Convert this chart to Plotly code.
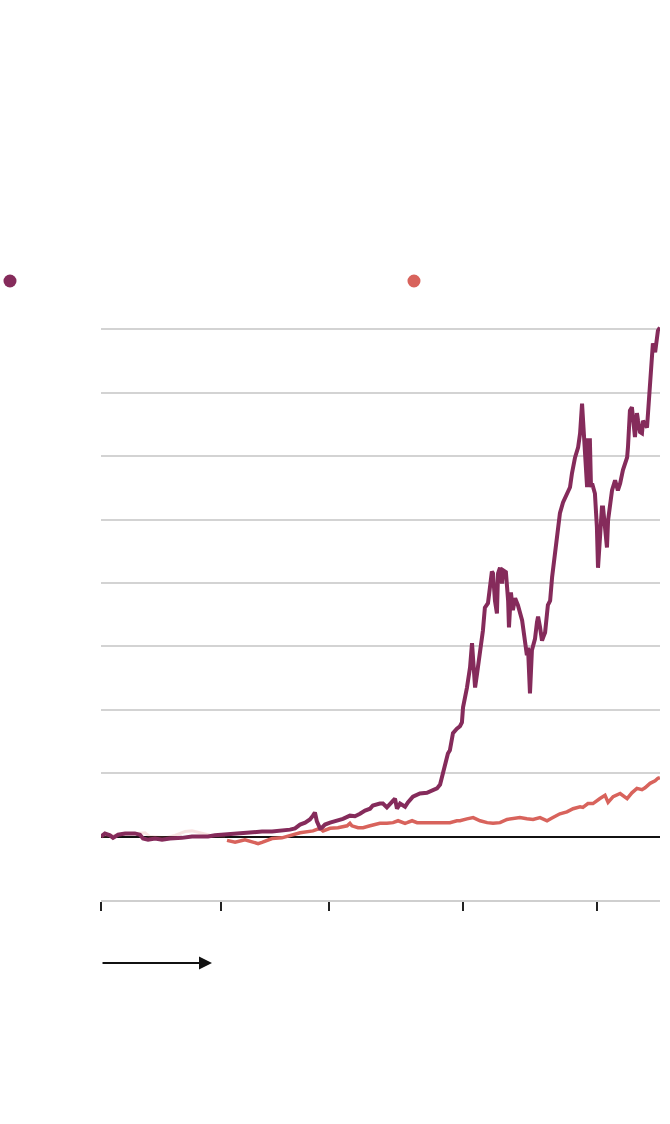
import plotly.graph_objects as go

# ---- data (x: decimal year, y: cumulative return %) ----
purple_x = [2004.00, 2004.14, 2004.32, 2004.43, 2004.61, 2004.86, 2005.21, 2005.39, 2005.50, 2005.68,
            2005.93, 2006.18, 2006.46, 2006.64, 2006.89, 2007.25, 2007.54, 2007.82, 2008.07, 2008.32,
            2008.61, 2008.79, 2009.04, 2009.39, 2009.75, 2010.11, 2010.46, 2010.75, 2010.93, 2011.11,
            2011.29, 2011.46, 2011.57, 2011.64, 2011.71, 2011.82, 2011.89, 2012.00, 2012.18, 2012.46,
            2012.64, 2012.89, 2013.07, 2013.25, 2013.43, 2013.61, 2013.71, 2013.96, 2014.07, 2014.21,
            2014.39, 2014.50, 2014.57, 2014.68, 2014.86, 2014.96, 2015.14, 2015.39, 2015.64, 2015.86,
            2016.00, 2016.11, 2016.21, 2016.32, 2016.39, 2016.46, 2016.57, 2016.71, 2016.82, 2016.89,
            2016.93, 2017.07, 2017.18, 2017.25, 2017.29, 2017.36, 2017.43, 2017.54, 2017.64, 2017.71,
            2017.82, 2017.89, 2017.96, 2018.00, 2018.07, 2018.14, 2018.18, 2018.25, 2018.32, 2018.36,
            2018.46, 2018.54, 2018.57, 2018.64, 2018.71, 2018.79, 2018.89, 2019.04, 2019.14, 2019.21,
            2019.25, 2019.32, 2019.39, 2019.50, 2019.57, 2019.61, 2019.68, 2019.75, 2019.79, 2019.86,
            2019.96, 2020.04, 2020.11, 2020.21, 2020.32, 2020.39, 2020.50, 2020.64, 2020.75, 2020.82,
            2020.93, 2021.04, 2021.11, 2021.18, 2021.21, 2021.29, 2021.36, 2021.39, 2021.46, 2021.50,
            2021.54, 2021.64, 2021.71, 2021.75, 2021.82, 2021.89, 2021.93, 2022.00, 2022.07, 2022.11,
            2022.18, 2022.25, 2022.36, 2022.46, 2022.54, 2022.64, 2022.79, 2022.82, 2022.89, 2022.96,
            2023.07, 2023.14, 2023.18, 2023.25, 2023.32, 2023.36, 2023.50, 2023.54, 2023.61, 2023.68,
            2023.71, 2023.79, 2023.86, 2023.89, 2023.96]
purple_y = [0, 5, 2, -2, 3, 5, 5, 3, -3, -5,
            -3, -5, -3, -3, -2, 0, 0, 0, 2, 3,
            3, 5, 6, 6, 8, 8, 9, 11, 13, 19,
            22, 27, 33, 38, 24, 13, 14, 19, 22, 25,
            28, 33, 32, 36, 41, 44, 49, 52, 52, 46,
            54, 60, 44, 52, 47, 54, 63, 68, 69, 73,
            76, 82, 101, 117, 131, 136, 163, 170, 174, 180,
            204, 235, 267, 305, 282, 235, 257, 294, 325, 361,
            368, 393, 418, 415, 372, 352, 415, 424, 399, 420,
            417, 372, 330, 385, 357, 376, 365, 341, 309, 286,
            298, 226, 294, 312, 338, 347, 330, 309, 314, 322,
            365, 372, 409, 443, 475, 510, 527, 541, 551, 573,
            598, 614, 636, 683, 656, 604, 551, 625, 625, 551,
            557, 541, 488, 424, 467, 519, 519, 478, 456, 499,
            519, 546, 562, 546, 557, 578, 598, 614, 672, 677,
            630, 668, 656, 638, 636, 656, 645, 672, 715, 762,
            778, 764, 783, 798, 803]

red_early_x = [2004.00, 2004.68, 2005.39, 2005.57, 2005.75, 2006.29, 2006.64, 2007.00, 2007.25, 2007.54,
               2007.89, 2008.43]
red_early_y = [0, 3, 6, 6, 0, -2, 2, 8, 9, 6,
               2, 0]

red_x = [2008.50, 2008.79, 2009.14, 2009.39, 2009.61, 2009.75, 2010.11, 2010.46, 2010.82, 2011.11,
         2011.57, 2011.82, 2011.93, 2012.18, 2012.46, 2012.79, 2012.89, 2012.96, 2013.18, 2013.36,
         2013.61, 2013.96, 2014.21, 2014.43, 2014.61, 2014.86, 2014.93, 2015.11, 2015.29, 2015.50,
         2015.75, 2016.00, 2016.21, 2016.46, 2016.71, 2016.82, 2017.07, 2017.29, 2017.54, 2017.79,
         2018.00, 2018.25, 2018.50, 2018.71, 2018.96, 2019.21, 2019.43, 2019.68, 2019.93, 2020.14,
         2020.39, 2020.64, 2020.86, 2021.11, 2021.21, 2021.39, 2021.57, 2021.82, 2022.00, 2022.11,
         2022.29, 2022.54, 2022.71, 2022.79, 2022.96, 2023.14, 2023.32, 2023.43, 2023.61, 2023.79,
         2023.89, 2023.96]
red_y = [-6, -9, -5, -8, -11, -9, -3, -2, 2, 6,
         9, 13, 9, 13, 14, 17, 21, 17, 14, 14,
         17, 21, 21, 22, 25, 21, 22, 25, 22, 22,
         21, 22, 21, 22, 25, 25, 28, 30, 25, 22,
         21, 22, 27, 28, 30, 28, 27, 30, 25, 30,
         36, 39, 44, 47, 46, 52, 52, 60, 65, 54,
         63, 68, 62, 60, 69, 76, 74, 77, 84, 88,
         92, 93]

x_tick_vals = [2004.00, 2008.29, 2012.14, 2016.93, 2021.71]
x_range = [2004.0, 2023.964]
y_range = [-100, 810]
y_step = 100

PURPLE = "#852b5b"
RED = "#d8635c"

fig = go.Figure()
fig.add_trace(go.Scatter(x=red_early_x, y=red_early_y, mode="lines",
                         line=dict(color=RED, width=3), opacity=0.18, hoverinfo="skip"))
fig.add_trace(go.Scatter(x=red_x, y=red_y, mode="lines", line=dict(color=RED, width=3.5)))
fig.add_trace(go.Scatter(x=purple_x, y=purple_y, mode="lines", line=dict(color=PURPLE, width=4)))

# legend dots (text-free in reference)
for cx, col in [(-0.1628, PURPLE), (0.5599, RED)]:
    fig.add_shape(type="circle", xref="paper", yref="paper",
                  xsizemode="pixel", ysizemode="pixel",
                  xanchor=cx, yanchor=1.0728, x0=-6.5, x1=6.5, y0=-6.5, y1=6.5,
                  fillcolor=col, line=dict(width=0))

# arrow below axis
fig.add_annotation(xref="paper", yref="paper", x=0.1986, y=-0.1092,
                   ax=-111, ay=0, axref="pixel", ayref="pixel", text="",
                   showarrow=True, arrowhead=2, arrowsize=1.3, arrowwidth=2,
                   arrowcolor="#111", standoff=0, startstandoff=0)

fig.update_layout(
    width=670, height=1124,
    margin=dict(l=101, r=10, t=323, b=224),
    plot_bgcolor="white", paper_bgcolor="white",
    showlegend=False,
    xaxis=dict(range=x_range, showgrid=False, zeroline=False,
               tickmode="array", tickvals=x_tick_vals, showticklabels=False,
               ticks="outside", ticklen=9, tickwidth=2, tickcolor="#222",
               showline=True, linecolor="#cfcfcf", linewidth=1.5),
    yaxis=dict(range=y_range, showgrid=True, gridcolor="#d3d3d3", gridwidth=1.5,
               tick0=0, dtick=y_step, showticklabels=False, ticks="",
               zeroline=True, zerolinecolor="#111", zerolinewidth=1.5,
               showline=False),
)

fig.write_html("out.html", config={"displayModeBar": False},
               post_script="document.body.style.margin='0';document.body.style.overflow='hidden';")
